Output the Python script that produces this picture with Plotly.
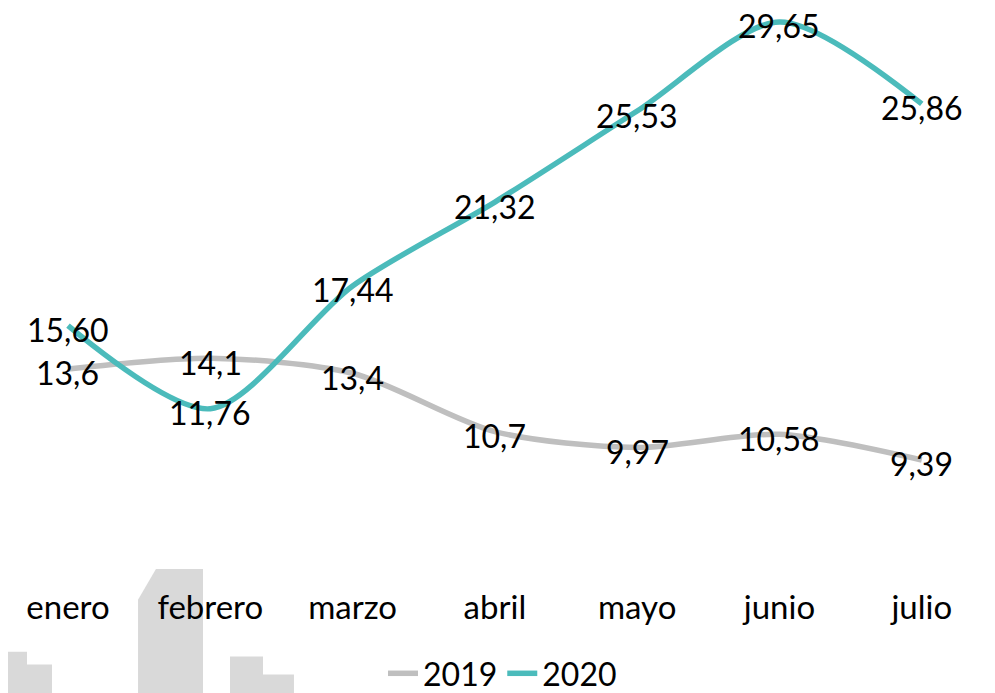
import plotly.graph_objects as go

# Data
months = ["enero", "febrero", "marzo", "abril", "mayo", "junio", "julio"]
values_2019 = [13.6, 14.1, 13.4, 10.7, 9.97, 10.58, 9.39]
values_2020 = [15.60, 11.76, 17.44, 21.32, 25.53, 29.65, 25.86]

labels_2019 = [str(v).replace(".", ",") for v in values_2019]
labels_2020 = [f"{v:.2f}".replace(".", ",") for v in values_2020]

GRAY = "#BFBFBF"
TEAL = "#4BBBBB"
FONT = "Lato, 'Open Sans', sans-serif"

W, H = 995, 693
OFF = 8       # page body margin that shifts the figure on screen
PLOT_H = 552  # pixel height of plot area (top margin 0)


def px(x, y):
    # screen pixel -> paper coordinates
    return (x - OFF) / W, (PLOT_H - (y - OFF)) / PLOT_H


def poly(points):
    pts = [px(x, y) for x, y in points]
    return "M " + " L ".join(f"{a:.4f},{b:.4f}" for a, b in pts) + " Z"


# decorative background blocks (bottom-left watermark)
blocks = [
    [(0, 654), (27, 654), (27, 667), (52, 667), (52, 700), (0, 700)],
    [(138, 602), (156, 571), (203, 571), (203, 700), (138, 700)],
    [(230, 659), (263, 659), (263, 677), (294, 677), (294, 700), (230, 700)],
]

fig = go.Figure()

fig.add_trace(go.Scatter(
    x=months, y=values_2019, name="2019", mode="lines",
    line=dict(color=GRAY, width=5.5, shape="spline", smoothing=0.8),
))
fig.add_trace(go.Scatter(
    x=months, y=values_2020, name="2020", mode="lines",
    line=dict(color=TEAL, width=5.5, shape="spline", smoothing=0.8),
))

# data labels, drawn above both lines
annotations = []
for vals, labs in [(values_2019, labels_2019), (values_2020, labels_2020)]:
    for m, v, t in zip(months, vals, labs):
        annotations.append(dict(
            x=m, y=v, text=t, showarrow=False, xanchor="center",
            yanchor="middle", yshift=-4,
            font=dict(family=FONT, size=32, color="#000000"),
        ))

fig.update_layout(
    width=W, height=H,
    paper_bgcolor="white", plot_bgcolor="rgba(0,0,0,0)",
    margin=dict(l=0, r=0, t=0, b=H - PLOT_H, pad=0),
    font=dict(family=FONT, size=32, color="#000000"),
    showlegend=True,
    legend=dict(
        orientation="h", x=0.497, xanchor="center", y=-0.21, yanchor="middle",
        font=dict(size=32), bgcolor="rgba(0,0,0,0)", itemwidth=30,
        tracegroupgap=0,
    ),
    annotations=annotations,
    shapes=[
        dict(type="path", path=poly(b), xref="paper", yref="paper",
             fillcolor="#D9D9D9", line=dict(width=0), layer="below")
        for b in blocks
    ],
    xaxis=dict(
        type="category", range=[-0.4216, 6.571],
        showgrid=False, zeroline=False, showline=False,
        ticks="", ticklabelstandoff=27,
        tickfont=dict(size=33, color="#000000"),
    ),
    yaxis=dict(
        range=[4.857, 30.295], visible=False, showgrid=False, zeroline=False,
    ),
)

fig.write_html("out.html")
